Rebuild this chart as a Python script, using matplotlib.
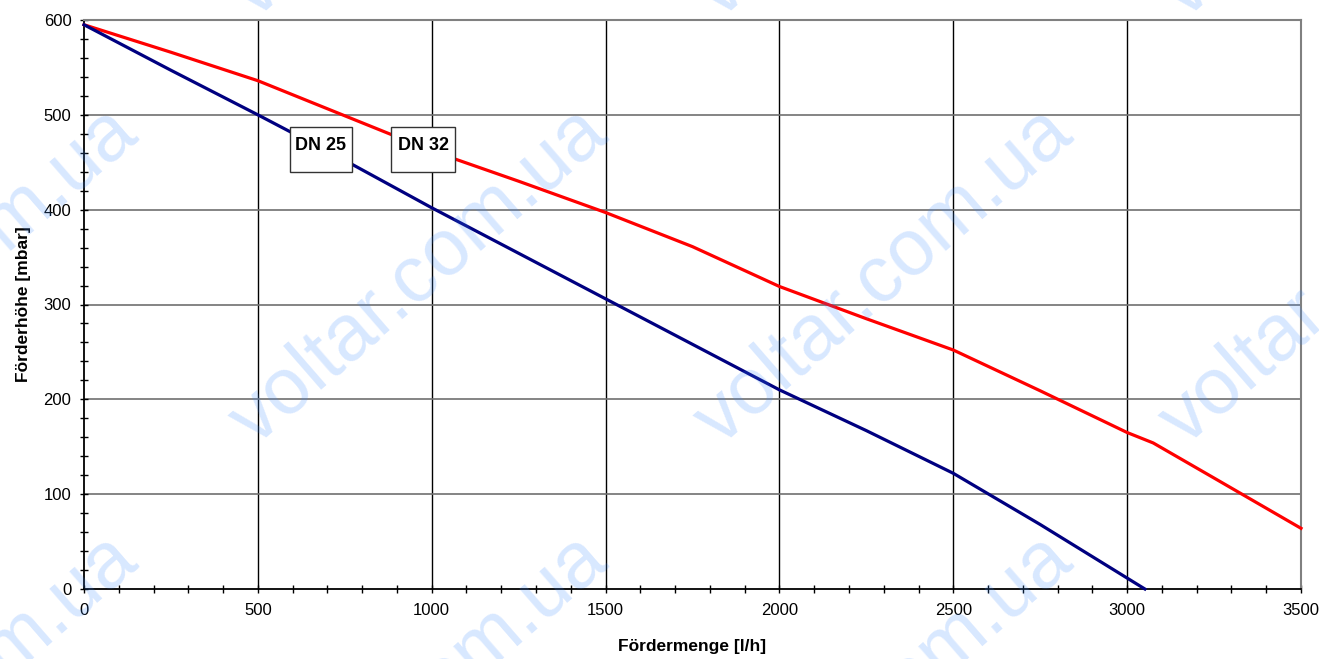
import matplotlib
matplotlib.use("Agg")
from matplotlib import pyplot as plt
from matplotlib.patches import Rectangle
from matplotlib.ticker import MultipleLocator

plt.rcParams['font.family'] = ['Liberation Sans', 'DejaVu Sans']

# DN 32 pump curve
dn32_q = [0, 250, 500, 750, 1000, 1250, 1500, 1750, 2000, 2250, 2500, 2750, 3000, 3075, 3250, 3500]
dn32_h = [595, 566, 536, 499, 462, 430, 397, 361, 319, 285, 252, 209, 165, 154, 117, 64]

# DN 25 pump curve
dn25_q = [0, 250, 500, 750, 1000, 1250, 1500, 1750, 2000, 2250, 2500, 2750, 3051]
dn25_h = [595, 547, 500, 452, 402, 354, 306, 258, 210, 167, 122, 68, 0]

xticks = [0, 500, 1000, 1500, 2000, 2500, 3000, 3500]
yticks = [0, 100, 200, 300, 400, 500, 600]

fig = plt.figure(figsize=(13.19, 6.59), dpi=100)
ax = fig.add_axes([84/1319, 70/659, 1217/1319, 569/659])

ax.plot(dn32_q, dn32_h, color='#ff0000', lw=2.3, zorder=3, clip_on=False)
ax.plot(dn25_q, dn25_h, color='#000080', lw=2.3, zorder=3, clip_on=False)

ax.set_xlim(0, 3500)
ax.set_ylim(0, 600)
ax.set_xticks(xticks)
ax.set_yticks(yticks)
ax.xaxis.set_minor_locator(MultipleLocator(100))
ax.yaxis.set_minor_locator(MultipleLocator(20))
ax.tick_params(which='both', direction='inout', length=6, width=1, color='black',
               labelsize=12, top=False, right=False)
ax.tick_params(axis='x', which='major', pad=7)
ax.tick_params(axis='y', which='major', pad=6)

for x in xticks[1:]:
    ax.axvline(x, color='black', lw=1, zorder=1)
for y in yticks[1:]:
    ax.axhline(y, color='#707070', lw=1.2, zorder=1)

ax.spines['left'].set_color('black')
ax.spines['bottom'].set_color('black')
ax.spines['left'].set_linewidth(1.3)
ax.spines['bottom'].set_linewidth(1.3)
ax.spines['top'].set_color('#808080')
ax.spines['right'].set_color('#808080')
ax.spines['top'].set_linewidth(1.5)
ax.spines['right'].set_linewidth(1.5)

ax.set_xlabel('Fördermenge [l/h]', fontsize=12.5, fontweight='bold', labelpad=15)
ax.set_ylabel('Förderhöhe [mbar]', fontsize=12.5, fontweight='bold', labelpad=9)

# label boxes
for x0, x1, txt in [(592, 770, 'DN 25'), (883, 1067, 'DN 32')]:
    ax.add_patch(Rectangle((x0, 440), x1 - x0, 47, facecolor='white',
                           edgecolor='#333333', lw=1, zorder=4))
    ax.text((x0 + x1) / 2, 477, txt, ha='center', va='top', fontsize=13,
            fontweight='bold', zorder=5)

# watermark
for xs in [-215, 255, 720, 1185]:
    for ys in [20, 447, 874]:
        fig.text(xs / 1319, 1 - ys / 659, 'voltar.com.ua', rotation=41,
                 rotation_mode='anchor', ha='left', va='baseline',
                 fontsize=57, color='#3d8bff', alpha=0.2, zorder=10)

fig.savefig('out.png', dpi=100)
